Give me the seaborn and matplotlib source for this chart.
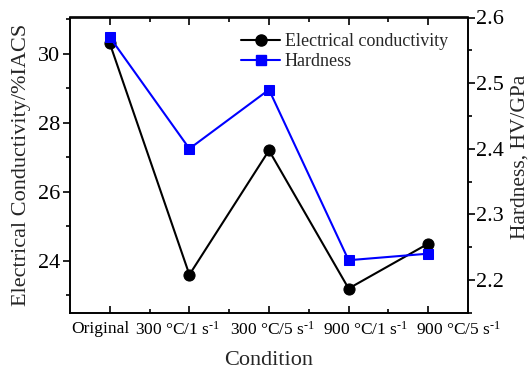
import matplotlib
matplotlib.use("Agg")
import matplotlib.pyplot as plt
import matplotlib.transforms as mtransforms
import seaborn as sns
import pandas as pd
from matplotlib.ticker import MultipleLocator, FixedLocator
from matplotlib.lines import Line2D

conditions = ["Original",
              "300 °C/1 s$^{\\mathregular{‐1}}$",
              "300 °C/5 s$^{\\mathregular{‐1}}$",
              "900 °C/1 s$^{\\mathregular{‐1}}$",
              "900 °C/5 s$^{\\mathregular{‐1}}$"]
conductivity = [30.3, 23.6, 27.2, 23.2, 24.5]
hardness = [2.57, 2.40, 2.49, 2.23, 2.24]

sns.set_theme(style="ticks")
plt.rcParams["font.family"] = ["Liberation Serif", "DejaVu Serif"]
plt.rcParams["mathtext.fontset"] = "custom"
plt.rcParams["mathtext.rm"] = "Liberation Serif"
plt.rcParams["mathtext.it"] = "Liberation Serif:italic"

df = pd.DataFrame({"Condition": conditions,
                   "Conductivity": conductivity,
                   "Hardness": hardness})

fig = plt.figure(figsize=(5.28, 3.70), dpi=100)
ax = fig.add_axes([70/528, (370-312.7)/370, (468-70)/528, (312.7-17.5)/370])
ax2 = ax.twinx()

sns.lineplot(data=df, x="Condition", y="Conductivity", ax=ax, color="black",
             marker="o", markersize=8, markeredgecolor="black", linewidth=1.5,
             sort=False, label="Electrical conductivity", legend=False)
sns.lineplot(data=df, x="Condition", y="Hardness", ax=ax2, color="#0000FF",
             marker="s", markersize=7.5, markeredgecolor="#0000FF", linewidth=1.5,
             sort=False, label="Hardness", legend=False)

ax.set_xlim(-0.5, 4.5)
ax.set_ylim(22.5, 31.05)
ax2.set_ylim(2.15, 2.6)

ax.yaxis.set_major_locator(MultipleLocator(2))
ax.yaxis.set_minor_locator(MultipleLocator(1))
ax2.yaxis.set_major_locator(MultipleLocator(0.1))
ax2.yaxis.set_minor_locator(MultipleLocator(0.05))
ax.xaxis.set_minor_locator(FixedLocator([0.5, 1.5, 2.5, 3.5]))

for a in (ax, ax2):
    for s in a.spines.values():
        s.set_linewidth(1.2)
        s.set_color("black")

ax.tick_params(axis="y", which="both", direction="out", left=True, right=False,
               labelsize=16, pad=2, width=1.2, colors="black")
ax.tick_params(axis="y", which="major", length=5)
ax.tick_params(axis="y", which="minor", length=3)
ax.tick_params(axis="x", which="both", direction="in", bottom=True, top=True,
               labelsize=12.5, pad=6, width=1.2, colors="black")
ax.tick_params(axis="x", which="major", length=5)
ax.tick_params(axis="x", which="minor", length=3)
ax2.tick_params(axis="y", which="both", direction="out", right=True,
                labelsize=16, pad=1, width=1.2, colors="black")
ax2.tick_params(axis="y", which="major", length=5)
ax2.tick_params(axis="y", which="minor", length=3)

# shift x tick labels as in the reference layout
offsets_pt = [-6.5, -8.6, 2.5, 12.2, 21.6]
for lab, dx in zip(ax.get_xticklabels(), offsets_pt):
    lab.set_transform(lab.get_transform() +
                      mtransforms.ScaledTranslation(dx/72, 0, fig.dpi_scale_trans))

ax.set_xlabel("Condition", fontsize=16, labelpad=8.5)
ax.set_ylabel("Electrical Conductivity/%IACS", fontsize=16)
ax.yaxis.set_label_coords(-0.098, 0.5)
ax2.set_ylabel("Hardness, HV/GPa", fontsize=15.5)
ax2.yaxis.set_label_coords(1.106, 0.527)

handles = [Line2D([], [], color="black", marker="o", markersize=8, linewidth=1.5),
           Line2D([], [], color="#0000FF", marker="s", markersize=7.5, linewidth=1.5)]
ax2.legend(handles, ["Electrical conductivity", "Hardness"], loc="upper right",
           bbox_to_anchor=(0.95, 0.948), frameon=False, fontsize=13,
           handlelength=2.2, handletextpad=0.25, labelspacing=0.2,
           borderpad=0, borderaxespad=0)

fig.savefig("out.png", dpi=100)
